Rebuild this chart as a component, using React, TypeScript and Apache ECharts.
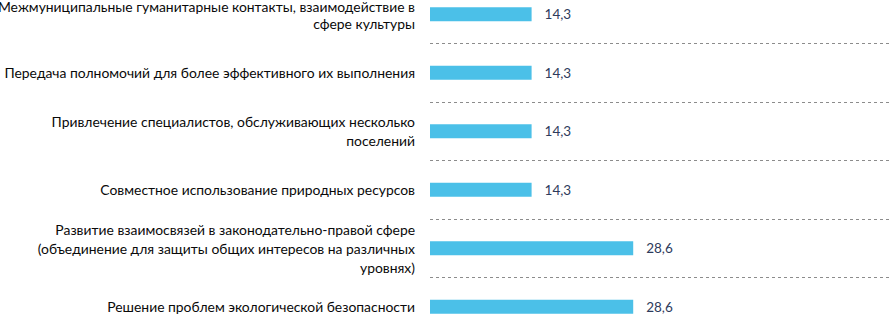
import React, { useEffect, useRef } from "react";
import * as echarts from "echarts";

const categories: string[] = [
  "Межмуниципальные гуманитарные контакты, взаимодействие в\nсфере культуры",
  "Передача полномочий для более эффективного их выполнения",
  "Привлечение специалистов, обслуживающих несколько\nпоселений",
  "Совместное использование природных ресурсов",
  "Развитие взаимосвязей в законодательно-правой сфере\n(объединение для защиты общих интересов на различных\nуровнях)",
  "Решение проблем экологической безопасности",
];

const values: number[] = [14.3, 14.3, 14.3, 14.3, 28.6, 28.6];

const FONT = "Lato, 'Noto Sans', sans-serif";

export default function App() {
  const ref = useRef<HTMLDivElement>(null);

  useEffect(() => {
    document.body.style.margin = "0";
    if (!ref.current) return;
    const chart = echarts.init(ref.current, null, { renderer: "svg" });
    const labelStyle = {
      fontSize: 13.9,
      lineHeight: 19,
      color: "#0a0a0a",
      fontFamily: FONT,
      align: "right",
    };
    chart.setOption({
      animation: false,
      backgroundColor: "#ffffff",
      grid: {
        left: 430,
        width: 459,
        top: -15,
        height: 351,
        containLabel: false,
        outerBoundsMode: "none",
      },
      xAxis: {
        type: "value",
        min: 0,
        max: 64.6,
        show: false,
      },
      yAxis: {
        type: "category",
        inverse: true,
        data: categories,
        axisLine: { show: false },
        axisTick: { show: false },
        splitLine: {
          show: true,
          lineStyle: { type: [3, 3], color: "#8c8c8c", width: 1 },
        },
        axisLabel: {
          margin: 15,
          ...labelStyle,
          formatter: (v: string, i: number) => {
            if (i !== 0) return v;
            const lines = v.split("\n");
            return lines
              .map((l, k) => (k === 0 ? `{t|${l}}` : `{n|${l}}`))
              .join("\n");
          },
          rich: {
            t: { ...labelStyle, padding: [4, 0, 0, 0] },
            n: { ...labelStyle },
          },
        },
      },
      series: [
        {
          type: "bar",
          data: values,
          barWidth: 14,
          itemStyle: { color: "#4bc0e8" },
          label: {
            show: true,
            position: "right",
            distance: 13,
            fontSize: 13.5,
            color: "#2e3b5c",
            fontFamily: FONT,
            formatter: (p: any) => String(p.value).replace(".", ","),
          },
        },
      ],
    });
    return () => chart.dispose();
  }, []);

  return <div ref={ref} style={{ width: 889, height: 315 }} />;
}
